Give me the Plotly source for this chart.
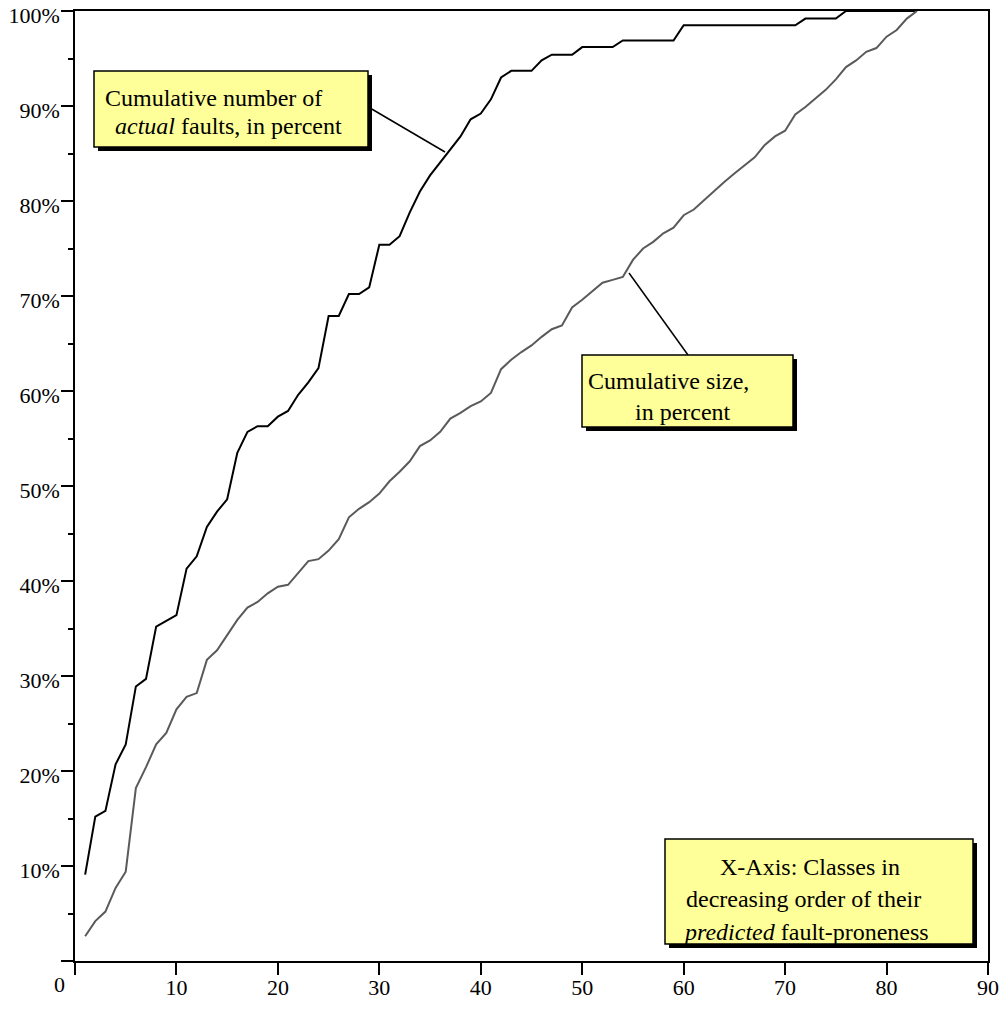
import plotly.graph_objects as go

# ---------------- data ----------------
classes = list(range(1, 84))

actual_faults_pct = [
    9.1, 15.2, 15.8, 20.7, 22.8, 28.9, 29.7, 35.2, 35.8, 36.4,
    41.3, 42.6, 45.7, 47.3, 48.6, 53.5, 55.7, 56.3, 56.3, 57.3,
    57.9, 59.6, 60.9, 62.4, 67.9, 67.9, 70.2, 70.2, 70.9, 75.4,
    75.4, 76.3, 78.8, 81.0, 82.7, 84.1, 85.4, 86.8, 88.6, 89.2,
    90.7, 93.0, 93.7, 93.7, 93.7, 94.8, 95.4, 95.4, 95.4, 96.2,
    96.2, 96.2, 96.2, 96.9, 96.9, 96.9, 96.9, 96.9, 96.9, 98.5,
    98.5, 98.5, 98.5, 98.5, 98.5, 98.5, 98.5, 98.5, 98.5, 98.5,
    98.5, 99.2, 99.2, 99.2, 99.2, 100, 100, 100, 100, 100,
    100, 100, 100,
]

size_pct = [
    2.6, 4.2, 5.2, 7.7, 9.4, 18.2, 20.4, 22.8, 24.0, 26.5,
    27.8, 28.2, 31.7, 32.7, 34.3, 35.9, 37.2, 37.8, 38.7, 39.4,
    39.6, 40.8, 42.1, 42.3, 43.2, 44.4, 46.7, 47.6, 48.3, 49.2,
    50.5, 51.5, 52.6, 54.2, 54.8, 55.7, 57.1, 57.7, 58.4, 58.9,
    59.8, 62.3, 63.3, 64.1, 64.8, 65.7, 66.5, 66.9, 68.8, 69.6,
    70.5, 71.4, 71.7, 72.0, 73.8, 75.0, 75.7, 76.6, 77.2, 78.5,
    79.1, 80.1, 81.0, 82.0, 82.9, 83.8, 84.6, 85.9, 86.8, 87.4,
    89.1, 89.9, 90.8, 91.7, 92.8, 94.1, 94.8, 95.7, 96.1, 97.3,
    98.0, 99.2, 100,
]

x_tickvals = [0, 10, 20, 30, 40, 50, 60, 70, 80, 90]
x_ticktext = ["", "10", "20", "30", "40", "50", "60", "70", "80", "90"]
y_tickvals = [0, 10, 20, 30, 40, 50, 60, 70, 80, 90, 100]
y_ticktext = ["", "10%", "20%", "30%", "40%", "50%", "60%", "70%", "80%", "90%", "100%"]
y_minor_vals = [5, 15, 25, 35, 45, 55, 65, 75, 85, 95]

label_actual = ["Cumulative number of", "<i>actual</i> faults, in percent"]
label_size = ["Cumulative size,", "in percent"]
label_xaxis = ["X-Axis: Classes in", "decreasing order of their",
               "<i>predicted</i> fault-proneness"]

# ---------------- geometry helpers (pixel -> data) ----------------
L, R, T, B = 75, 988, 11, 961
def px2x(px):
    return (px - L) / (R - L) * 90
def py2y(py):
    return (B - py) / (B - T) * 100

FONT = "Liberation Serif, Times New Roman, serif"
YELLOW = "#FFFF99"

fig = go.Figure()
fig.add_trace(go.Scatter(x=classes, y=actual_faults_pct, mode="lines",
                         line=dict(color="#000000", width=2), hoverinfo="skip"))
fig.add_trace(go.Scatter(x=classes, y=size_pct, mode="lines",
                         line=dict(color="#5a5a5a", width=2), hoverinfo="skip"))

shapes = []
annotations = []

def add_box(x0, y0, x1, y1):
    # shadow
    shapes.append(dict(type="rect", xref="x", yref="y",
                       x0=px2x(x0 + 4), x1=px2x(x1 + 4), y0=py2y(y0 + 4), y1=py2y(y1 + 4),
                       fillcolor="#000000", line=dict(width=0), layer="above"))
    shapes.append(dict(type="rect", xref="x", yref="y",
                       x0=px2x(x0), x1=px2x(x1), y0=py2y(y0), y1=py2y(y1),
                       fillcolor=YELLOW, line=dict(color="#000000", width=1.5), layer="above"))

def add_leader(xa, ya, xb, yb):
    shapes.append(dict(type="line", xref="x", yref="y",
                       x0=px2x(xa), y0=py2y(ya), x1=px2x(xb), y1=py2y(yb),
                       line=dict(color="#000000", width=1.5), layer="above"))

def add_text(text, px, py, anchor):
    annotations.append(dict(text=text, xref="x", yref="y", x=px2x(px), y=py2y(py),
                            xanchor=anchor, yanchor="middle", showarrow=False,
                            font=dict(family=FONT, size=24, color="#000000")))

# box 1: actual faults
add_leader(370, 108, 445, 152)
add_box(94, 71, 368, 147)
add_text(label_actual[0], 103, 97.5, "left")
add_text(label_actual[1], 113, 126, "left")

# box 2: size
add_leader(629, 273, 688, 355)
add_box(582, 355, 793, 427)
add_text(label_size[0], 586, 381, "left")
add_text(label_size[1], 633, 411.5, "left")

# box 3: x-axis description
add_box(665, 839, 973, 944)
add_text(label_xaxis[0], 809.5, 867, "center")
add_text(label_xaxis[1], 803, 899, "center")
add_text(label_xaxis[2], 805.5, 931.5, "center")

# origin label "0"
annotations.append(dict(text="0", xref="paper", yref="paper",
                        x=(59 - L) / (R - L), y=(B - 984) / (B - T),
                        xanchor="center", yanchor="middle", showarrow=False,
                        font=dict(family=FONT, size=22, color="#000000")))

fig.update_layout(
    width=1000, height=1010, autosize=False,
    margin=dict(l=L, r=1000 - R, t=T, b=1010 - B, pad=0),
    plot_bgcolor="white", paper_bgcolor="white",
    showlegend=False,
    shapes=shapes, annotations=annotations,
    font=dict(family=FONT, size=22, color="#000000"),
    xaxis=dict(range=[0, 90], tickmode="array", tickvals=x_tickvals, ticktext=x_ticktext,
               ticks="outside", ticklen=12, tickwidth=1.5, tickcolor="#000000",
               showline=True, linewidth=1.5, linecolor="#000000", mirror=True,
               showgrid=False, zeroline=False, automargin=False,
               ticklabeloverflow="allow", ticklabelstandoff=-6,
               tickfont=dict(family=FONT, size=22, color="#000000")),
    yaxis=dict(range=[0, 100], tickmode="array", tickvals=y_tickvals, ticktext=y_ticktext,
               ticks="outside", ticklen=12, tickwidth=1.5, tickcolor="#000000",
               showline=True, linewidth=1.5, linecolor="#000000", mirror=True,
               showgrid=False, zeroline=False, ticklabelshift=4, ticklabelstandoff=-3,
               automargin=False, ticklabeloverflow="allow",
               tickfont=dict(family=FONT, size=22, color="#000000"),
               minor=dict(tickmode="array", tickvals=y_minor_vals, ticks="outside",
                          ticklen=5, tickwidth=1.5, tickcolor="#000000", showgrid=False)),
)

fig.write_html("out.html", config={"displayModeBar": False},
               post_script="document.body.style.margin='0';document.body.style.padding='0';")
